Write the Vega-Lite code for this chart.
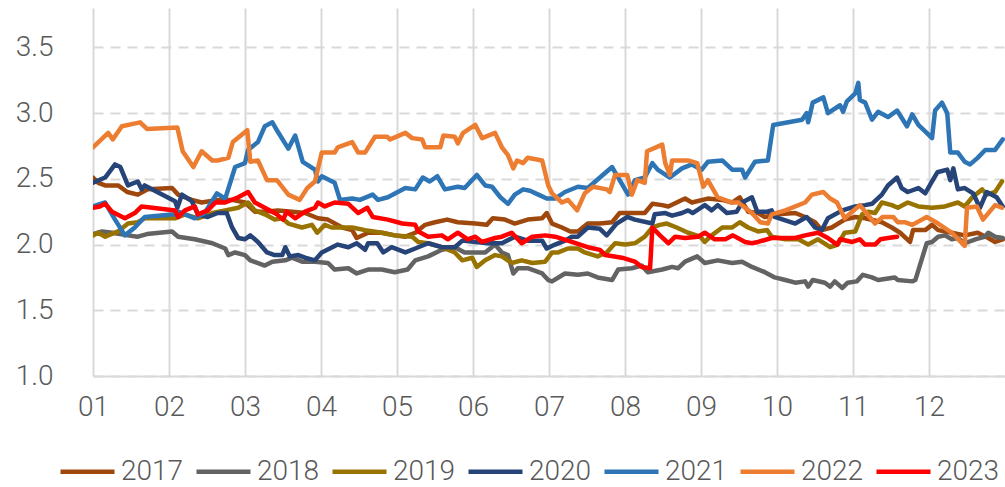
{
  "$schema": "https://vega.github.io/schema/vega-lite/v6.json",
  "width": 912,
  "height": 368,
  "autosize": "none",
  "padding": {"left": 93, "top": 8, "right": 0, "bottom": 111},
  "background": "white",
  "config": {
    "view": {"stroke": null},
    "font": "Roboto",
    "axis": {"labelFont": "Roboto", "labelFontWeight": 300, "labelColor": "#595959", "labelFontSize": 28, "ticks": false, "title": null, "gridColor": "#D9D9D9", "gridWidth": 2, "domainColor": "#D9D9D9", "domainWidth": 2},
    "legend": {"labelFont": "Roboto", "labelFontWeight": 300, "labelColor": "#595959", "labelFontSize": 28, "padding": 0}
  },
  "data": {"values": [
    {"s":"2017","m":1.00,"v":2.51},{"s":"2017","m":1.07,"v":2.47},{"s":"2017","m":1.16,"v":2.45},{"s":"2017","m":1.33,"v":2.45},{"s":"2017","m":1.45,"v":2.40},{"s":"2017","m":1.59,"v":2.38},{"s":"2017","m":1.72,"v":2.42},{"s":"2017","m":2.04,"v":2.43},{"s":"2017","m":2.12,"v":2.38},{"s":"2017","m":2.30,"v":2.34},{"s":"2017","m":2.43,"v":2.32},{"s":"2017","m":2.64,"v":2.34},{"s":"2017","m":2.83,"v":2.34},{"s":"2017","m":3.00,"v":2.32},{"s":"2017","m":3.13,"v":2.25},{"s":"2017","m":3.26,"v":2.25},{"s":"2017","m":3.43,"v":2.26},{"s":"2017","m":3.62,"v":2.25},{"s":"2017","m":3.79,"v":2.24},{"s":"2017","m":3.96,"v":2.20},{"s":"2017","m":4.09,"v":2.19},{"s":"2017","m":4.28,"v":2.13},{"s":"2017","m":4.41,"v":2.11},{"s":"2017","m":4.47,"v":2.05},{"s":"2017","m":4.62,"v":2.09},{"s":"2017","m":4.80,"v":2.09},{"s":"2017","m":4.97,"v":2.07},{"s":"2017","m":5.11,"v":2.06},{"s":"2017","m":5.24,"v":2.09},{"s":"2017","m":5.37,"v":2.15},{"s":"2017","m":5.50,"v":2.17},{"s":"2017","m":5.66,"v":2.19},{"s":"2017","m":5.80,"v":2.17},{"s":"2017","m":6.03,"v":2.16},{"s":"2017","m":6.18,"v":2.15},{"s":"2017","m":6.26,"v":2.20},{"s":"2017","m":6.42,"v":2.19},{"s":"2017","m":6.55,"v":2.16},{"s":"2017","m":6.72,"v":2.19},{"s":"2017","m":6.91,"v":2.20},{"s":"2017","m":6.97,"v":2.24},{"s":"2017","m":7.04,"v":2.16},{"s":"2017","m":7.17,"v":2.13},{"s":"2017","m":7.28,"v":2.10},{"s":"2017","m":7.38,"v":2.10},{"s":"2017","m":7.51,"v":2.16},{"s":"2017","m":7.67,"v":2.16},{"s":"2017","m":7.83,"v":2.17},{"s":"2017","m":7.93,"v":2.24},{"s":"2017","m":8.09,"v":2.24},{"s":"2017","m":8.26,"v":2.24},{"s":"2017","m":8.36,"v":2.31},{"s":"2017","m":8.49,"v":2.30},{"s":"2017","m":8.57,"v":2.29},{"s":"2017","m":8.79,"v":2.35},{"s":"2017","m":8.88,"v":2.32},{"s":"2017","m":9.09,"v":2.35},{"s":"2017","m":9.28,"v":2.34},{"s":"2017","m":9.41,"v":2.32},{"s":"2017","m":9.51,"v":2.36},{"s":"2017","m":9.62,"v":2.25},{"s":"2017","m":9.75,"v":2.24},{"s":"2017","m":9.84,"v":2.21},{"s":"2017","m":10.01,"v":2.23},{"s":"2017","m":10.24,"v":2.24},{"s":"2017","m":10.37,"v":2.21},{"s":"2017","m":10.50,"v":2.17},{"s":"2017","m":10.59,"v":2.11},{"s":"2017","m":10.72,"v":2.13},{"s":"2017","m":10.89,"v":2.19},{"s":"2017","m":11.03,"v":2.21},{"s":"2017","m":11.16,"v":2.20},{"s":"2017","m":11.38,"v":2.17},{"s":"2017","m":11.51,"v":2.13},{"s":"2017","m":11.62,"v":2.09},{"s":"2017","m":11.75,"v":2.02},{"s":"2017","m":11.79,"v":2.11},{"s":"2017","m":11.95,"v":2.11},{"s":"2017","m":12.04,"v":2.15},{"s":"2017","m":12.12,"v":2.11},{"s":"2017","m":12.30,"v":2.09},{"s":"2017","m":12.47,"v":2.07},{"s":"2017","m":12.64,"v":2.09},{"s":"2017","m":12.78,"v":2.05},{"s":"2017","m":12.87,"v":2.02},{"s":"2017","m":12.97,"v":2.04},

    {"s":"2018","m":1.00,"v":2.08},{"s":"2018","m":1.12,"v":2.10},{"s":"2018","m":1.25,"v":2.09},{"s":"2018","m":1.46,"v":2.07},{"s":"2018","m":1.59,"v":2.06},{"s":"2018","m":1.71,"v":2.08},{"s":"2018","m":2.04,"v":2.10},{"s":"2018","m":2.12,"v":2.06},{"s":"2018","m":2.34,"v":2.04},{"s":"2018","m":2.57,"v":2.01},{"s":"2018","m":2.74,"v":1.97},{"s":"2018","m":2.78,"v":1.92},{"s":"2018","m":2.87,"v":1.94},{"s":"2018","m":3.00,"v":1.92},{"s":"2018","m":3.07,"v":1.88},{"s":"2018","m":3.26,"v":1.84},{"s":"2018","m":3.36,"v":1.87},{"s":"2018","m":3.53,"v":1.88},{"s":"2018","m":3.62,"v":1.90},{"s":"2018","m":3.75,"v":1.87},{"s":"2018","m":3.92,"v":1.87},{"s":"2018","m":4.09,"v":1.86},{"s":"2018","m":4.18,"v":1.81},{"s":"2018","m":4.36,"v":1.82},{"s":"2018","m":4.47,"v":1.78},{"s":"2018","m":4.62,"v":1.81},{"s":"2018","m":4.80,"v":1.81},{"s":"2018","m":4.97,"v":1.79},{"s":"2018","m":5.14,"v":1.81},{"s":"2018","m":5.24,"v":1.88},{"s":"2018","m":5.41,"v":1.91},{"s":"2018","m":5.59,"v":1.96},{"s":"2018","m":5.76,"v":1.98},{"s":"2018","m":5.89,"v":1.94},{"s":"2018","m":6.03,"v":1.94},{"s":"2018","m":6.16,"v":1.94},{"s":"2018","m":6.29,"v":2.00},{"s":"2018","m":6.38,"v":1.94},{"s":"2018","m":6.46,"v":1.92},{"s":"2018","m":6.53,"v":1.78},{"s":"2018","m":6.59,"v":1.82},{"s":"2018","m":6.72,"v":1.82},{"s":"2018","m":6.91,"v":1.78},{"s":"2018","m":6.99,"v":1.73},{"s":"2018","m":7.04,"v":1.72},{"s":"2018","m":7.21,"v":1.78},{"s":"2018","m":7.38,"v":1.77},{"s":"2018","m":7.51,"v":1.78},{"s":"2018","m":7.64,"v":1.75},{"s":"2018","m":7.83,"v":1.73},{"s":"2018","m":7.91,"v":1.81},{"s":"2018","m":8.09,"v":1.82},{"s":"2018","m":8.22,"v":1.84},{"s":"2018","m":8.30,"v":1.79},{"s":"2018","m":8.49,"v":1.81},{"s":"2018","m":8.62,"v":1.83},{"s":"2018","m":8.70,"v":1.82},{"s":"2018","m":8.79,"v":1.87},{"s":"2018","m":8.95,"v":1.91},{"s":"2018","m":9.05,"v":1.86},{"s":"2018","m":9.22,"v":1.88},{"s":"2018","m":9.41,"v":1.86},{"s":"2018","m":9.54,"v":1.87},{"s":"2018","m":9.67,"v":1.83},{"s":"2018","m":9.84,"v":1.79},{"s":"2018","m":9.97,"v":1.75},{"s":"2018","m":10.11,"v":1.73},{"s":"2018","m":10.24,"v":1.71},{"s":"2018","m":10.37,"v":1.72},{"s":"2018","m":10.41,"v":1.68},{"s":"2018","m":10.47,"v":1.73},{"s":"2018","m":10.63,"v":1.71},{"s":"2018","m":10.70,"v":1.68},{"s":"2018","m":10.76,"v":1.72},{"s":"2018","m":10.86,"v":1.67},{"s":"2018","m":10.93,"v":1.71},{"s":"2018","m":11.05,"v":1.72},{"s":"2018","m":11.13,"v":1.77},{"s":"2018","m":11.25,"v":1.75},{"s":"2018","m":11.33,"v":1.73},{"s":"2018","m":11.55,"v":1.75},{"s":"2018","m":11.59,"v":1.73},{"s":"2018","m":11.78,"v":1.72},{"s":"2018","m":11.82,"v":1.73},{"s":"2018","m":11.97,"v":2.01},{"s":"2018","m":12.04,"v":2.02},{"s":"2018","m":12.12,"v":2.06},{"s":"2018","m":12.21,"v":2.07},{"s":"2018","m":12.30,"v":2.04},{"s":"2018","m":12.38,"v":2.05},{"s":"2018","m":12.47,"v":2.01},{"s":"2018","m":12.61,"v":2.04},{"s":"2018","m":12.74,"v":2.06},{"s":"2018","m":12.78,"v":2.09},{"s":"2018","m":12.87,"v":2.06},{"s":"2018","m":12.97,"v":2.05},

    {"s":"2019","m":1.00,"v":2.07},{"s":"2019","m":1.07,"v":2.09},{"s":"2019","m":1.16,"v":2.06},{"s":"2019","m":1.33,"v":2.10},{"s":"2019","m":1.46,"v":2.16},{"s":"2019","m":1.59,"v":2.17},{"s":"2019","m":1.68,"v":2.20},{"s":"2019","m":2.08,"v":2.20},{"s":"2019","m":2.21,"v":2.23},{"s":"2019","m":2.38,"v":2.20},{"s":"2019","m":2.57,"v":2.24},{"s":"2019","m":2.74,"v":2.26},{"s":"2019","m":2.91,"v":2.28},{"s":"2019","m":3.04,"v":2.32},{"s":"2019","m":3.13,"v":2.26},{"s":"2019","m":3.26,"v":2.23},{"s":"2019","m":3.39,"v":2.19},{"s":"2019","m":3.49,"v":2.20},{"s":"2019","m":3.57,"v":2.16},{"s":"2019","m":3.75,"v":2.13},{"s":"2019","m":3.88,"v":2.15},{"s":"2019","m":3.95,"v":2.09},{"s":"2019","m":4.05,"v":2.15},{"s":"2019","m":4.14,"v":2.13},{"s":"2019","m":4.28,"v":2.13},{"s":"2019","m":4.41,"v":2.13},{"s":"2019","m":4.58,"v":2.11},{"s":"2019","m":4.80,"v":2.09},{"s":"2019","m":4.97,"v":2.07},{"s":"2019","m":5.20,"v":2.06},{"s":"2019","m":5.28,"v":2.02},{"s":"2019","m":5.41,"v":2.01},{"s":"2019","m":5.59,"v":1.98},{"s":"2019","m":5.76,"v":1.94},{"s":"2019","m":5.86,"v":1.88},{"s":"2019","m":5.99,"v":1.90},{"s":"2019","m":6.05,"v":1.83},{"s":"2019","m":6.16,"v":1.88},{"s":"2019","m":6.29,"v":1.92},{"s":"2019","m":6.38,"v":1.91},{"s":"2019","m":6.51,"v":1.86},{"s":"2019","m":6.64,"v":1.88},{"s":"2019","m":6.78,"v":1.86},{"s":"2019","m":6.95,"v":1.87},{"s":"2019","m":7.04,"v":1.94},{"s":"2019","m":7.12,"v":1.94},{"s":"2019","m":7.25,"v":1.97},{"s":"2019","m":7.38,"v":1.97},{"s":"2019","m":7.47,"v":1.94},{"s":"2019","m":7.64,"v":1.91},{"s":"2019","m":7.76,"v":1.94},{"s":"2019","m":7.87,"v":2.01},{"s":"2019","m":8.00,"v":2.00},{"s":"2019","m":8.13,"v":2.01},{"s":"2019","m":8.26,"v":2.06},{"s":"2019","m":8.36,"v":2.13},{"s":"2019","m":8.46,"v":2.15},{"s":"2019","m":8.55,"v":2.16},{"s":"2019","m":8.68,"v":2.13},{"s":"2019","m":8.83,"v":2.09},{"s":"2019","m":8.99,"v":2.06},{"s":"2019","m":9.05,"v":2.02},{"s":"2019","m":9.14,"v":2.07},{"s":"2019","m":9.28,"v":2.13},{"s":"2019","m":9.41,"v":2.13},{"s":"2019","m":9.51,"v":2.17},{"s":"2019","m":9.62,"v":2.13},{"s":"2019","m":9.75,"v":2.10},{"s":"2019","m":9.87,"v":2.11},{"s":"2019","m":9.93,"v":2.06},{"s":"2019","m":10.11,"v":2.04},{"s":"2019","m":10.28,"v":2.04},{"s":"2019","m":10.41,"v":2.00},{"s":"2019","m":10.54,"v":2.04},{"s":"2019","m":10.70,"v":1.98},{"s":"2019","m":10.80,"v":2.00},{"s":"2019","m":10.89,"v":2.09},{"s":"2019","m":11.03,"v":2.10},{"s":"2019","m":11.12,"v":2.23},{"s":"2019","m":11.20,"v":2.25},{"s":"2019","m":11.29,"v":2.24},{"s":"2019","m":11.38,"v":2.32},{"s":"2019","m":11.51,"v":2.30},{"s":"2019","m":11.59,"v":2.28},{"s":"2019","m":11.72,"v":2.32},{"s":"2019","m":11.86,"v":2.29},{"s":"2019","m":12.04,"v":2.28},{"s":"2019","m":12.21,"v":2.29},{"s":"2019","m":12.38,"v":2.32},{"s":"2019","m":12.47,"v":2.29},{"s":"2019","m":12.57,"v":2.36},{"s":"2019","m":12.70,"v":2.42},{"s":"2019","m":12.76,"v":2.38},{"s":"2019","m":12.87,"v":2.40},{"s":"2019","m":12.96,"v":2.48},

    {"s":"2020","m":1.00,"v":2.47},{"s":"2020","m":1.16,"v":2.51},{"s":"2020","m":1.29,"v":2.61},{"s":"2020","m":1.36,"v":2.59},{"s":"2020","m":1.46,"v":2.45},{"s":"2020","m":1.59,"v":2.48},{"s":"2020","m":1.64,"v":2.42},{"s":"2020","m":1.68,"v":2.45},{"s":"2020","m":2.08,"v":2.33},{"s":"2020","m":2.11,"v":2.28},{"s":"2020","m":2.17,"v":2.38},{"s":"2020","m":2.30,"v":2.33},{"s":"2020","m":2.38,"v":2.23},{"s":"2020","m":2.51,"v":2.21},{"s":"2020","m":2.64,"v":2.24},{"s":"2020","m":2.76,"v":2.24},{"s":"2020","m":2.83,"v":2.13},{"s":"2020","m":2.91,"v":2.05},{"s":"2020","m":3.00,"v":2.04},{"s":"2020","m":3.07,"v":2.07},{"s":"2020","m":3.17,"v":2.02},{"s":"2020","m":3.29,"v":1.94},{"s":"2020","m":3.39,"v":1.92},{"s":"2020","m":3.49,"v":1.92},{"s":"2020","m":3.53,"v":1.98},{"s":"2020","m":3.59,"v":1.91},{"s":"2020","m":3.70,"v":1.92},{"s":"2020","m":3.79,"v":1.90},{"s":"2020","m":3.92,"v":1.88},{"s":"2020","m":4.01,"v":1.94},{"s":"2020","m":4.22,"v":2.00},{"s":"2020","m":4.36,"v":1.98},{"s":"2020","m":4.47,"v":2.01},{"s":"2020","m":4.58,"v":1.96},{"s":"2020","m":4.62,"v":2.01},{"s":"2020","m":4.74,"v":2.01},{"s":"2020","m":4.82,"v":1.94},{"s":"2020","m":4.93,"v":1.98},{"s":"2020","m":5.11,"v":1.94},{"s":"2020","m":5.24,"v":1.97},{"s":"2020","m":5.41,"v":2.01},{"s":"2020","m":5.59,"v":1.98},{"s":"2020","m":5.76,"v":1.98},{"s":"2020","m":5.86,"v":2.03},{"s":"2020","m":6.03,"v":2.02},{"s":"2020","m":6.20,"v":2.01},{"s":"2020","m":6.38,"v":2.01},{"s":"2020","m":6.55,"v":2.06},{"s":"2020","m":6.72,"v":2.03},{"s":"2020","m":6.91,"v":2.03},{"s":"2020","m":6.97,"v":1.97},{"s":"2020","m":7.08,"v":2.00},{"s":"2020","m":7.21,"v":2.03},{"s":"2020","m":7.30,"v":2.06},{"s":"2020","m":7.38,"v":2.06},{"s":"2020","m":7.51,"v":2.13},{"s":"2020","m":7.67,"v":2.12},{"s":"2020","m":7.76,"v":2.07},{"s":"2020","m":7.89,"v":2.16},{"s":"2020","m":8.03,"v":2.21},{"s":"2020","m":8.13,"v":2.19},{"s":"2020","m":8.36,"v":2.16},{"s":"2020","m":8.39,"v":2.23},{"s":"2020","m":8.53,"v":2.24},{"s":"2020","m":8.62,"v":2.22},{"s":"2020","m":8.75,"v":2.24},{"s":"2020","m":8.83,"v":2.26},{"s":"2020","m":8.89,"v":2.24},{"s":"2020","m":9.05,"v":2.30},{"s":"2020","m":9.14,"v":2.26},{"s":"2020","m":9.22,"v":2.30},{"s":"2020","m":9.34,"v":2.24},{"s":"2020","m":9.47,"v":2.25},{"s":"2020","m":9.54,"v":2.32},{"s":"2020","m":9.67,"v":2.36},{"s":"2020","m":9.74,"v":2.25},{"s":"2020","m":9.87,"v":2.25},{"s":"2020","m":9.93,"v":2.26},{"s":"2020","m":9.97,"v":2.21},{"s":"2020","m":10.24,"v":2.16},{"s":"2020","m":10.39,"v":2.21},{"s":"2020","m":10.50,"v":2.13},{"s":"2020","m":10.59,"v":2.11},{"s":"2020","m":10.67,"v":2.20},{"s":"2020","m":10.86,"v":2.26},{"s":"2020","m":11.03,"v":2.29},{"s":"2020","m":11.16,"v":2.30},{"s":"2020","m":11.25,"v":2.31},{"s":"2020","m":11.38,"v":2.38},{"s":"2020","m":11.46,"v":2.45},{"s":"2020","m":11.58,"v":2.51},{"s":"2020","m":11.64,"v":2.43},{"s":"2020","m":11.72,"v":2.40},{"s":"2020","m":11.86,"v":2.43},{"s":"2020","m":11.95,"v":2.39},{"s":"2020","m":12.04,"v":2.48},{"s":"2020","m":12.11,"v":2.55},{"s":"2020","m":12.24,"v":2.57},{"s":"2020","m":12.28,"v":2.49},{"s":"2020","m":12.32,"v":2.58},{"s":"2020","m":12.38,"v":2.42},{"s":"2020","m":12.47,"v":2.43},{"s":"2020","m":12.58,"v":2.39},{"s":"2020","m":12.67,"v":2.28},{"s":"2020","m":12.76,"v":2.40},{"s":"2020","m":12.89,"v":2.36},{"s":"2020","m":12.97,"v":2.29},

    {"s":"2021","m":1.00,"v":2.29},{"s":"2021","m":1.16,"v":2.32},{"s":"2021","m":1.29,"v":2.19},{"s":"2021","m":1.42,"v":2.07},{"s":"2021","m":1.55,"v":2.13},{"s":"2021","m":1.68,"v":2.21},{"s":"2021","m":2.08,"v":2.23},{"s":"2021","m":2.12,"v":2.25},{"s":"2021","m":2.34,"v":2.20},{"s":"2021","m":2.47,"v":2.24},{"s":"2021","m":2.63,"v":2.39},{"s":"2021","m":2.74,"v":2.35},{"s":"2021","m":2.87,"v":2.59},{"s":"2021","m":3.00,"v":2.62},{"s":"2021","m":3.04,"v":2.72},{"s":"2021","m":3.17,"v":2.78},{"s":"2021","m":3.26,"v":2.90},{"s":"2021","m":3.36,"v":2.93},{"s":"2021","m":3.43,"v":2.86},{"s":"2021","m":3.57,"v":2.73},{"s":"2021","m":3.66,"v":2.83},{"s":"2021","m":3.76,"v":2.63},{"s":"2021","m":3.92,"v":2.57},{"s":"2021","m":3.96,"v":2.48},{"s":"2021","m":4.01,"v":2.52},{"s":"2021","m":4.18,"v":2.47},{"s":"2021","m":4.25,"v":2.34},{"s":"2021","m":4.41,"v":2.35},{"s":"2021","m":4.51,"v":2.34},{"s":"2021","m":4.68,"v":2.38},{"s":"2021","m":4.75,"v":2.34},{"s":"2021","m":4.88,"v":2.36},{"s":"2021","m":5.11,"v":2.43},{"s":"2021","m":5.24,"v":2.42},{"s":"2021","m":5.34,"v":2.51},{"s":"2021","m":5.43,"v":2.48},{"s":"2021","m":5.53,"v":2.52},{"s":"2021","m":5.63,"v":2.42},{"s":"2021","m":5.80,"v":2.44},{"s":"2021","m":5.89,"v":2.43},{"s":"2021","m":6.05,"v":2.53},{"s":"2021","m":6.16,"v":2.45},{"s":"2021","m":6.25,"v":2.44},{"s":"2021","m":6.36,"v":2.36},{"s":"2021","m":6.46,"v":2.31},{"s":"2021","m":6.55,"v":2.38},{"s":"2021","m":6.66,"v":2.42},{"s":"2021","m":6.75,"v":2.41},{"s":"2021","m":6.86,"v":2.38},{"s":"2021","m":6.97,"v":2.35},{"s":"2021","m":7.08,"v":2.35},{"s":"2021","m":7.21,"v":2.40},{"s":"2021","m":7.38,"v":2.44},{"s":"2021","m":7.51,"v":2.43},{"s":"2021","m":7.67,"v":2.51},{"s":"2021","m":7.83,"v":2.59},{"s":"2021","m":7.93,"v":2.49},{"s":"2021","m":8.04,"v":2.38},{"s":"2021","m":8.13,"v":2.49},{"s":"2021","m":8.26,"v":2.51},{"s":"2021","m":8.36,"v":2.62},{"s":"2021","m":8.43,"v":2.57},{"s":"2021","m":8.59,"v":2.51},{"s":"2021","m":8.75,"v":2.58},{"s":"2021","m":8.88,"v":2.61},{"s":"2021","m":9.01,"v":2.57},{"s":"2021","m":9.09,"v":2.63},{"s":"2021","m":9.28,"v":2.64},{"s":"2021","m":9.41,"v":2.57},{"s":"2021","m":9.54,"v":2.57},{"s":"2021","m":9.58,"v":2.51},{"s":"2021","m":9.71,"v":2.63},{"s":"2021","m":9.88,"v":2.64},{"s":"2021","m":9.95,"v":2.91},{"s":"2021","m":10.33,"v":2.95},{"s":"2021","m":10.39,"v":3.00},{"s":"2021","m":10.41,"v":2.93},{"s":"2021","m":10.47,"v":3.08},{"s":"2021","m":10.61,"v":3.12},{"s":"2021","m":10.67,"v":3.00},{"s":"2021","m":10.83,"v":3.06},{"s":"2021","m":10.87,"v":3.01},{"s":"2021","m":10.92,"v":3.09},{"s":"2021","m":11.03,"v":3.15},{"s":"2021","m":11.07,"v":3.23},{"s":"2021","m":11.09,"v":3.10},{"s":"2021","m":11.16,"v":3.08},{"s":"2021","m":11.25,"v":2.95},{"s":"2021","m":11.33,"v":3.01},{"s":"2021","m":11.46,"v":2.97},{"s":"2021","m":11.58,"v":3.02},{"s":"2021","m":11.71,"v":2.90},{"s":"2021","m":11.78,"v":2.99},{"s":"2021","m":11.86,"v":2.91},{"s":"2021","m":11.97,"v":2.85},{"s":"2021","m":12.04,"v":2.81},{"s":"2021","m":12.08,"v":3.02},{"s":"2021","m":12.17,"v":3.08},{"s":"2021","m":12.24,"v":3.00},{"s":"2021","m":12.28,"v":2.70},{"s":"2021","m":12.38,"v":2.70},{"s":"2021","m":12.47,"v":2.63},{"s":"2021","m":12.54,"v":2.61},{"s":"2021","m":12.64,"v":2.66},{"s":"2021","m":12.74,"v":2.72},{"s":"2021","m":12.87,"v":2.72},{"s":"2021","m":12.97,"v":2.80},

    {"s":"2022","m":1.00,"v":2.74},{"s":"2022","m":1.20,"v":2.85},{"s":"2022","m":1.26,"v":2.80},{"s":"2022","m":1.38,"v":2.90},{"s":"2022","m":1.62,"v":2.93},{"s":"2022","m":1.71,"v":2.88},{"s":"2022","m":2.11,"v":2.89},{"s":"2022","m":2.18,"v":2.71},{"s":"2022","m":2.32,"v":2.59},{"s":"2022","m":2.43,"v":2.71},{"s":"2022","m":2.57,"v":2.64},{"s":"2022","m":2.64,"v":2.64},{"s":"2022","m":2.78,"v":2.66},{"s":"2022","m":2.84,"v":2.78},{"s":"2022","m":3.03,"v":2.87},{"s":"2022","m":3.07,"v":2.63},{"s":"2022","m":3.17,"v":2.64},{"s":"2022","m":3.29,"v":2.49},{"s":"2022","m":3.42,"v":2.49},{"s":"2022","m":3.57,"v":2.38},{"s":"2022","m":3.72,"v":2.34},{"s":"2022","m":3.82,"v":2.43},{"s":"2022","m":3.92,"v":2.48},{"s":"2022","m":4.01,"v":2.70},{"s":"2022","m":4.18,"v":2.70},{"s":"2022","m":4.22,"v":2.74},{"s":"2022","m":4.41,"v":2.78},{"s":"2022","m":4.49,"v":2.70},{"s":"2022","m":4.58,"v":2.70},{"s":"2022","m":4.71,"v":2.82},{"s":"2022","m":4.87,"v":2.82},{"s":"2022","m":4.91,"v":2.80},{"s":"2022","m":5.11,"v":2.85},{"s":"2022","m":5.20,"v":2.81},{"s":"2022","m":5.33,"v":2.80},{"s":"2022","m":5.37,"v":2.74},{"s":"2022","m":5.57,"v":2.74},{"s":"2022","m":5.61,"v":2.83},{"s":"2022","m":5.76,"v":2.82},{"s":"2022","m":5.80,"v":2.77},{"s":"2022","m":5.87,"v":2.85},{"s":"2022","m":6.03,"v":2.91},{"s":"2022","m":6.12,"v":2.81},{"s":"2022","m":6.29,"v":2.85},{"s":"2022","m":6.38,"v":2.74},{"s":"2022","m":6.46,"v":2.68},{"s":"2022","m":6.53,"v":2.58},{"s":"2022","m":6.58,"v":2.64},{"s":"2022","m":6.66,"v":2.62},{"s":"2022","m":6.72,"v":2.66},{"s":"2022","m":6.91,"v":2.64},{"s":"2022","m":6.99,"v":2.45},{"s":"2022","m":7.04,"v":2.39},{"s":"2022","m":7.17,"v":2.32},{"s":"2022","m":7.25,"v":2.34},{"s":"2022","m":7.37,"v":2.26},{"s":"2022","m":7.47,"v":2.39},{"s":"2022","m":7.58,"v":2.44},{"s":"2022","m":7.76,"v":2.42},{"s":"2022","m":7.80,"v":2.40},{"s":"2022","m":7.87,"v":2.53},{"s":"2022","m":8.03,"v":2.53},{"s":"2022","m":8.09,"v":2.38},{"s":"2022","m":8.16,"v":2.49},{"s":"2022","m":8.26,"v":2.47},{"s":"2022","m":8.29,"v":2.71},{"s":"2022","m":8.49,"v":2.76},{"s":"2022","m":8.53,"v":2.62},{"s":"2022","m":8.59,"v":2.53},{"s":"2022","m":8.62,"v":2.64},{"s":"2022","m":8.83,"v":2.64},{"s":"2022","m":8.95,"v":2.62},{"s":"2022","m":9.03,"v":2.44},{"s":"2022","m":9.09,"v":2.49},{"s":"2022","m":9.22,"v":2.36},{"s":"2022","m":9.41,"v":2.32},{"s":"2022","m":9.49,"v":2.32},{"s":"2022","m":9.67,"v":2.24},{"s":"2022","m":9.78,"v":2.17},{"s":"2022","m":9.88,"v":2.16},{"s":"2022","m":9.93,"v":2.23},{"s":"2022","m":10.11,"v":2.26},{"s":"2022","m":10.37,"v":2.32},{"s":"2022","m":10.46,"v":2.38},{"s":"2022","m":10.61,"v":2.40},{"s":"2022","m":10.70,"v":2.35},{"s":"2022","m":10.79,"v":2.32},{"s":"2022","m":10.89,"v":2.20},{"s":"2022","m":11.09,"v":2.30},{"s":"2022","m":11.29,"v":2.16},{"s":"2022","m":11.39,"v":2.21},{"s":"2022","m":11.53,"v":2.21},{"s":"2022","m":11.59,"v":2.17},{"s":"2022","m":11.68,"v":2.17},{"s":"2022","m":11.78,"v":2.15},{"s":"2022","m":11.97,"v":2.21},{"s":"2022","m":12.12,"v":2.16},{"s":"2022","m":12.30,"v":2.09},{"s":"2022","m":12.47,"v":1.99},{"s":"2022","m":12.50,"v":2.28},{"s":"2022","m":12.63,"v":2.29},{"s":"2022","m":12.71,"v":2.19},{"s":"2022","m":12.87,"v":2.30},{"s":"2022","m":12.96,"v":2.28},

    {"s":"2023","m":1.00,"v":2.28},{"s":"2023","m":1.09,"v":2.29},{"s":"2023","m":1.16,"v":2.31},{"s":"2023","m":1.25,"v":2.25},{"s":"2023","m":1.42,"v":2.20},{"s":"2023","m":1.55,"v":2.24},{"s":"2023","m":1.64,"v":2.29},{"s":"2023","m":1.78,"v":2.28},{"s":"2023","m":2.08,"v":2.26},{"s":"2023","m":2.12,"v":2.21},{"s":"2023","m":2.21,"v":2.26},{"s":"2023","m":2.34,"v":2.29},{"s":"2023","m":2.38,"v":2.23},{"s":"2023","m":2.51,"v":2.26},{"s":"2023","m":2.61,"v":2.32},{"s":"2023","m":2.74,"v":2.32},{"s":"2023","m":2.91,"v":2.36},{"s":"2023","m":3.04,"v":2.40},{"s":"2023","m":3.13,"v":2.32},{"s":"2023","m":3.26,"v":2.28},{"s":"2023","m":3.42,"v":2.23},{"s":"2023","m":3.50,"v":2.19},{"s":"2023","m":3.55,"v":2.25},{"s":"2023","m":3.66,"v":2.20},{"s":"2023","m":3.79,"v":2.25},{"s":"2023","m":3.92,"v":2.28},{"s":"2023","m":3.96,"v":2.32},{"s":"2023","m":4.05,"v":2.29},{"s":"2023","m":4.18,"v":2.32},{"s":"2023","m":4.36,"v":2.31},{"s":"2023","m":4.49,"v":2.24},{"s":"2023","m":4.61,"v":2.28},{"s":"2023","m":4.68,"v":2.21},{"s":"2023","m":4.88,"v":2.19},{"s":"2023","m":5.07,"v":2.16},{"s":"2023","m":5.24,"v":2.15},{"s":"2023","m":5.28,"v":2.10},{"s":"2023","m":5.41,"v":2.06},{"s":"2023","m":5.59,"v":2.07},{"s":"2023","m":5.67,"v":2.04},{"s":"2023","m":5.80,"v":2.09},{"s":"2023","m":5.93,"v":2.04},{"s":"2023","m":6.03,"v":2.06},{"s":"2023","m":6.12,"v":2.02},{"s":"2023","m":6.29,"v":2.05},{"s":"2023","m":6.38,"v":2.06},{"s":"2023","m":6.51,"v":2.09},{"s":"2023","m":6.64,"v":2.01},{"s":"2023","m":6.78,"v":2.06},{"s":"2023","m":6.95,"v":2.07},{"s":"2023","m":7.08,"v":2.06},{"s":"2023","m":7.30,"v":2.02},{"s":"2023","m":7.51,"v":1.98},{"s":"2023","m":7.67,"v":1.96},{"s":"2023","m":7.74,"v":1.92},{"s":"2023","m":7.96,"v":1.90},{"s":"2023","m":8.13,"v":1.87},{"s":"2023","m":8.22,"v":1.83},{"s":"2023","m":8.33,"v":1.82},{"s":"2023","m":8.36,"v":2.13},{"s":"2023","m":8.46,"v":2.07},{"s":"2023","m":8.57,"v":2.01},{"s":"2023","m":8.66,"v":2.06},{"s":"2023","m":8.79,"v":2.05},{"s":"2023","m":8.96,"v":2.06},{"s":"2023","m":9.05,"v":2.09},{"s":"2023","m":9.18,"v":2.04},{"s":"2023","m":9.32,"v":2.04},{"s":"2023","m":9.42,"v":2.07},{"s":"2023","m":9.58,"v":2.02},{"s":"2023","m":9.67,"v":2.01},{"s":"2023","m":9.75,"v":2.02},{"s":"2023","m":9.93,"v":2.05},{"s":"2023","m":10.24,"v":2.05},{"s":"2023","m":10.37,"v":2.07},{"s":"2023","m":10.54,"v":2.09},{"s":"2023","m":10.67,"v":2.05},{"s":"2023","m":10.79,"v":2.00},{"s":"2023","m":10.83,"v":2.04},{"s":"2023","m":10.99,"v":2.02},{"s":"2023","m":11.09,"v":2.04},{"s":"2023","m":11.16,"v":2.00},{"s":"2023","m":11.29,"v":2.00},{"s":"2023","m":11.36,"v":2.04},{"s":"2023","m":11.46,"v":2.05},{"s":"2023","m":11.58,"v":2.06}
  ]},
  "mark": {"type": "line", "clip": true, "strokeJoin": "round", "strokeCap": "round"},
  "encoding": {
    "x": {"field": "m", "type": "quantitative",
      "scale": {"domain": [1, 13], "nice": false, "zero": false},
      "axis": {"values": [1,2,3,4,5,6,7,8,9,10,11,12], "labelExpr": "datum.value < 10 ? '0' + datum.value : '' + datum.value", "grid": true, "domain": true, "labelPadding": 17, "labelBaseline": "top", "labelFlush": false}},
    "y": {"field": "v", "type": "quantitative",
      "scale": {"domain": [1, 3.8], "nice": false, "zero": false},
      "axis": {"values": [1, 1.5, 2, 2.5, 3, 3.5], "format": ".1f", "grid": true, "gridDash": [10, 7], "domain": false, "labelPadding": 40, "labelBaseline": "middle"}},
    "color": {"field": "s", "type": "ordinal",
      "scale": {"domain": ["2017","2018","2019","2020","2021","2022","2023"], "range": ["#9E480E","#636363","#997300","#264478","#2E75B6","#ED7D31","#FF0000"]},
      "legend": {"title": null, "orient": "none", "legendX": -35, "legendY": 434, "direction": "horizontal", "columns": 7, "symbolType": "stroke", "symbolSize": 2916, "labelOffset": 4, "columnPadding": 3}},
    "strokeWidth": {"field": "s", "type": "ordinal",
      "scale": {"domain": ["2017","2018","2019","2020","2021","2022","2023"], "range": [4.5,4.5,4.5,4.5,4.5,4.5,6.5]},
      "legend": {"title": null, "orient": "none", "legendX": -35, "legendY": 434, "direction": "horizontal", "columns": 7, "symbolType": "stroke", "symbolSize": 2916, "labelOffset": 4, "columnPadding": 3}}
  }
}
